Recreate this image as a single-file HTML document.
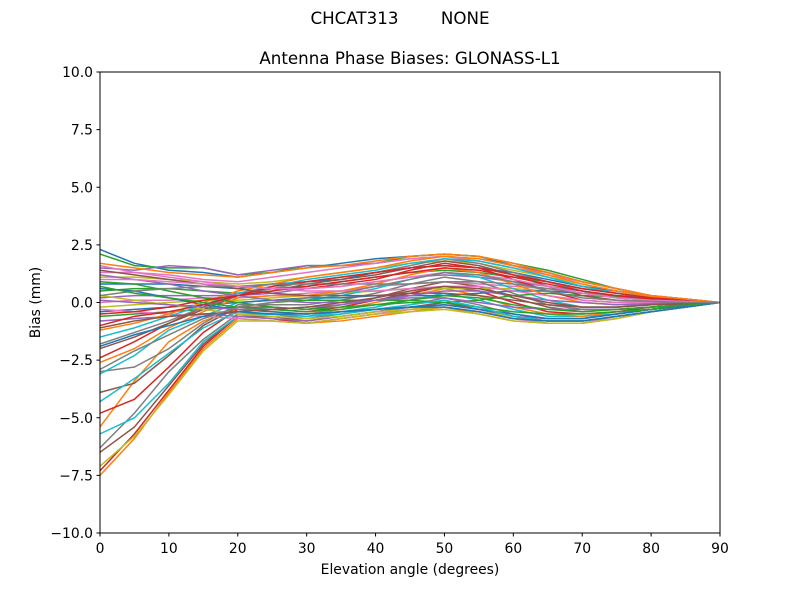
<!DOCTYPE html>
<html><head><meta charset="utf-8"><style>
body{margin:0;background:#fff;font-family:"Liberation Sans","DejaVu Sans",sans-serif}
svg text{font-family:"DejaVu Sans","Liberation Sans",sans-serif}
</style></head><body>
<svg id="chart" width="800" height="600" viewBox="0 0 800 600" xmlns="http://www.w3.org/2000/svg">
<rect width="800" height="600" fill="#fff"/>
<text x="400" y="24" font-size="16.7" text-anchor="middle" xml:space="preserve">CHCAT313        NONE</text>
<text x="410" y="64" font-size="16.7" text-anchor="middle">Antenna Phase Biases: GLONASS-L1</text>
<g id="lines"></g>
<rect x="100" y="72" width="620" height="461" fill="none" stroke="#000" stroke-width="1"/>
<g id="axes"></g>
<text x="410" y="574" font-size="13.9" text-anchor="middle">Elevation angle (degrees)</text>
<text transform="translate(40,302.5) rotate(-90)" font-size="13.9" text-anchor="middle">Bias (mm)</text>
</svg>
<script>
const elevations=[0,5,10,15,20,25,30,35,40,45,50,55,60,65,70,75,80,85,90];
const xTicks=[0,10,20,30,40,50,60,70,80,90];
const yTicks=[-10,-7.5,-5,-2.5,0,2.5,5,7.5,10];
const yTickLabels=["\u221210.0","\u22127.5","\u22125.0","\u22122.5","0.0","2.5","5.0","7.5","10.0"];
const s01=[2.3,1.7,1.4,1.3,1.1,1.3,1.5,1.7,1.9,2.0,2.1,2.0,1.6,1.3,0.9,0.6,0.3,0.15,0];
const s02=[-7.5,-5.9,-3.9,-2.0,-0.7,-0.8,-0.9,-0.8,-0.6,-0.4,-0.2,-0.5,-0.8,-0.9,-0.9,-0.7,-0.4,-0.2,0];
const s03=[2.1,1.6,1.5,1.5,1.2,1.3,1.6,1.6,1.7,2.0,2.1,2.0,1.7,1.4,1.0,0.6,0.3,0.15,0];
const s04=[-7.3,-5.7,-3.8,-1.9,-0.6,-0.7,-0.9,-0.7,-0.5,-0.3,-0.2,-0.4,-0.7,-0.8,-0.8,-0.6,-0.4,-0.2,0];
const s05=[1.5,1.4,1.6,1.5,1.2,1.4,1.6,1.6,1.7,1.9,2.0,1.9,1.6,1.3,0.9,0.6,0.3,0.15,0];
const s06=[-6.5,-5.4,-3.6,-1.8,-0.6,-0.6,-0.8,-0.6,-0.4,-0.2,0.0,-0.3,-0.6,-0.8,-0.8,-0.6,-0.4,-0.2,0];
const s07=[1.3,1.3,1.2,1.0,0.9,1.1,1.3,1.5,1.7,1.9,2.0,1.8,1.5,1.2,0.9,0.6,0.3,0.15,0];
const s08=[-6.3,-4.8,-3.0,-1.6,-0.5,-0.5,-0.7,-0.5,-0.3,-0.1,0.2,-0.1,-0.5,-0.7,-0.7,-0.5,-0.3,-0.15,0];
const s09=[1.1,1.1,1.0,0.9,0.8,0.9,1.1,1.3,1.5,1.7,1.8,1.7,1.4,1.1,0.8,0.5,0.3,0.1,0];
const s10=[-5.7,-5.0,-3.5,-1.7,-0.6,-0.5,-0.6,-0.4,-0.2,0.1,0.4,0.1,-0.3,-0.6,-0.6,-0.5,-0.3,-0.15,0];
const s11=[0.8,0.8,0.8,0.7,0.6,0.8,0.9,1.0,1.3,1.5,1.6,1.5,1.3,1.0,0.7,0.5,0.25,0.1,0];
const s12=[-5.4,-3.4,-1.7,-0.8,-0.3,-0.4,-0.5,-0.3,0.0,0.3,0.6,0.3,-0.2,-0.5,-0.6,-0.4,-0.3,-0.1,0];
const s13=[0.5,0.6,0.6,0.5,0.4,0.6,0.7,0.9,1.1,1.3,1.4,1.3,1.1,0.9,0.6,0.4,0.2,0.1,0];
const s14=[-4.8,-4.2,-2.8,-1.3,-0.3,-0.3,-0.4,-0.2,0.1,0.4,0.7,0.5,0.0,-0.4,-0.5,-0.4,-0.2,-0.1,0];
const s15=[0.2,0.3,0.3,0.3,0.3,0.4,0.6,0.7,0.9,1.1,1.2,1.1,0.9,0.7,0.5,0.3,0.2,0.1,0];
const s16=[-3.9,-3.5,-2.3,-1.0,-0.2,-0.2,-0.3,-0.1,0.2,0.6,0.9,0.7,0.2,-0.2,-0.4,-0.3,-0.2,-0.1,0];
const s17=[0.0,0.1,0.1,0.2,0.2,0.3,0.4,0.5,0.7,0.8,0.9,0.8,0.7,0.6,0.4,0.3,0.2,0.1,0];
const s18=[-3.0,-2.8,-2.0,-0.9,-0.1,-0.1,-0.1,0.1,0.4,0.8,1.1,0.9,0.4,-0.1,-0.3,-0.3,-0.2,-0.1,0];
const s19=[-0.2,-0.1,0.0,0.1,0.1,0.2,0.3,0.4,0.5,0.6,0.6,0.6,0.6,0.5,0.4,0.3,0.2,0.1,0];
const s20=[-3.1,-2.3,-1.2,-0.6,0.0,0.1,0.1,0.3,0.6,1.0,1.3,1.1,0.6,0.1,-0.2,-0.2,-0.1,-0.05,0];
const s21=[-0.4,-0.3,-0.2,-0.1,0.0,0.1,0.2,0.2,0.3,0.3,0.3,0.4,0.5,0.5,0.4,0.3,0.2,0.1,0];
const s22=[-2.6,-2.0,-1.1,-0.4,0.2,0.3,0.3,0.5,0.8,1.2,1.5,1.3,0.8,0.3,0.0,-0.1,-0.1,0,0];
const s23=[-0.6,-0.5,-0.4,-0.3,-0.2,0.0,0.1,0.1,0.1,0.1,0.0,0.1,0.3,0.4,0.3,0.25,0.15,0.1,0];
const s24=[-2.4,-1.7,-0.9,-0.2,0.4,0.6,0.6,0.8,1.0,1.4,1.7,1.5,1.0,0.5,0.1,0.0,0,0,0];
const s25=[-0.8,-0.7,-0.6,-0.5,-0.6,-0.7,-0.8,-0.6,-0.4,-0.2,-0.1,-0.3,-0.6,-0.7,-0.7,-0.5,-0.3,-0.15,0];
const s26=[-2.0,-1.5,-0.9,-0.3,0.3,0.5,0.8,1.0,1.2,1.5,1.8,1.6,1.2,0.7,0.3,0.1,0.05,0,0];
const s27=[-0.3,-0.4,-0.5,-0.6,-0.7,-0.8,-0.9,-0.7,-0.5,-0.3,-0.2,-0.4,-0.7,-0.9,-0.9,-0.6,-0.4,-0.2,0];
const s28=[-1.8,-1.3,-0.8,-0.2,0.3,0.6,0.9,1.1,1.3,1.6,1.9,1.7,1.3,0.9,0.5,0.2,0.1,0.05,0];
const s29=[0.3,0.1,-0.1,-0.3,-0.5,-0.6,-0.7,-0.6,-0.4,-0.3,-0.2,-0.4,-0.6,-0.8,-0.8,-0.6,-0.4,-0.2,0];
const s30=[-1.5,-1.1,-0.6,-0.1,0.4,0.7,1.0,1.2,1.4,1.7,1.9,1.8,1.5,1.1,0.7,0.4,0.2,0.1,0];
const s31=[0.6,0.5,0.2,-0.1,-0.3,-0.4,-0.5,-0.4,-0.3,-0.2,-0.1,-0.3,-0.5,-0.7,-0.7,-0.5,-0.3,-0.15,0];
const s32=[-1.2,-0.9,-0.5,0.0,0.5,0.8,1.1,1.3,1.5,1.8,2.0,1.9,1.6,1.2,0.8,0.5,0.25,0.1,0];
const s33=[0.9,0.8,0.5,0.2,0.0,-0.2,-0.3,-0.2,-0.1,0.0,0.0,-0.2,-0.4,-0.5,-0.5,-0.4,-0.3,-0.1,0];
const s34=[-1.0,-0.6,-0.4,-0.1,0.3,0.7,0.9,1.1,1.3,1.5,1.6,1.5,1.2,0.9,0.6,0.4,0.2,0.1,0];
const s35=[1.2,1.0,0.8,0.5,0.3,0.1,0.0,0.0,0.1,0.2,0.2,0.0,-0.2,-0.3,-0.3,-0.3,-0.2,-0.1,0];
const s36=[1.4,1.2,1.0,0.8,0.6,0.4,0.3,0.3,0.3,0.4,0.4,0.3,0.1,-0.1,-0.2,-0.2,-0.1,-0.05,0];
const s37=[1.0,1.0,0.9,0.8,0.7,0.6,0.5,0.5,0.5,0.6,0.7,0.7,0.5,0.3,0.1,0,0,0,0];
const s38=[0.3,0.5,0.6,0.7,0.7,0.8,0.8,0.8,0.8,0.8,0.9,0.9,0.8,0.6,0.4,0.2,0.1,0.05,0];
const s39=[-7.1,-5.8,-4.0,-2.1,-0.8,-0.8,-0.9,-0.7,-0.5,-0.4,-0.3,-0.5,-0.8,-0.9,-0.9,-0.7,-0.4,-0.2,0];
const s40=[-4.3,-3.3,-2.2,-1.1,-0.4,-0.5,-0.6,-0.5,-0.3,-0.1,0.1,-0.2,-0.6,-0.8,-0.8,-0.6,-0.4,-0.2,0];
const s41=[-1.9,-1.4,-1.0,-0.6,-0.4,-0.5,-0.5,-0.4,-0.3,-0.2,-0.2,-0.4,-0.7,-0.8,-0.8,-0.6,-0.4,-0.2,0];
const s42=[1.7,1.5,1.3,1.2,1.1,1.3,1.5,1.6,1.8,2.0,2.1,2.0,1.7,1.3,0.9,0.6,0.3,0.15,0];
const s43=[0.7,0.4,0.2,0.0,-0.2,-0.3,-0.4,-0.3,-0.1,0.1,0.3,0.2,-0.1,-0.3,-0.4,-0.3,-0.2,-0.1,0];
const s44=[-0.5,-0.4,-0.2,0.1,0.3,0.5,0.7,0.9,1.1,1.3,1.5,1.4,1.1,0.8,0.5,0.3,0.15,0.05,0];
const s45=[0.1,0.0,-0.1,-0.2,-0.3,-0.3,-0.2,-0.1,0.1,0.3,0.5,0.5,0.3,0.1,0.0,-0.1,-0.05,0,0];
const s46=[-1.1,-0.8,-0.6,-0.5,-0.4,-0.3,-0.2,0.0,0.2,0.5,0.7,0.6,0.3,0.0,-0.2,-0.2,-0.1,-0.05,0];
const s47=[1.6,1.3,1.1,0.9,0.7,0.6,0.6,0.7,0.9,1.1,1.3,1.2,1.0,0.7,0.4,0.2,0.1,0.05,0];
const s48=[-2.9,-2.1,-1.4,-0.7,-0.2,0.0,0.2,0.4,0.7,1.0,1.3,1.2,0.9,0.5,0.2,0.1,0.05,0,0];
const series=[s01,s02,s03,s04,s05,s06,s07,s08,s09,s10,s11,s12,s13,s14,s15,s16,s17,s18,s19,s20,s21,s22,s23,s24,s25,s26,s27,s28,s29,s30,s31,s32,s33,s34,s35,s36,s37,s38,s39,s40,s41,s42,s43,s44,s45,s46,s47,s48];
const colors=["#1f77b4","#ff7f0e","#2ca02c","#d62728","#9467bd","#8c564b","#e377c2","#7f7f7f","#bcbd22","#17becf"];
const NS="http://www.w3.org/2000/svg";
function xs(v){return 100+(v-0)/90*620;}
function ys(v){return 533-(v+10)/20*461;}
const lg=document.getElementById('lines');
series.forEach((s,i)=>{
  const p=document.createElementNS(NS,'polyline');
  p.setAttribute('points',s.map((v,j)=>xs(elevations[j]).toFixed(2)+','+ys(v).toFixed(2)).join(' '));
  p.setAttribute('fill','none');
  p.setAttribute('stroke',colors[i%10]);
  p.setAttribute('stroke-width','1.5');
  
  
  lg.appendChild(p);
});
const ax=document.getElementById('axes');
xTicks.forEach(t=>{
  const l=document.createElementNS(NS,'line');
  l.setAttribute('x1',xs(t));l.setAttribute('x2',xs(t));l.setAttribute('y1',533);l.setAttribute('y2',536.5);l.setAttribute('stroke','#000');
  
  
  ax.appendChild(l);
  const tx=document.createElementNS(NS,'text');
  tx.setAttribute('x',xs(t));tx.setAttribute('y',553);tx.setAttribute('font-size','13.9');tx.setAttribute('text-anchor','middle');
  tx.textContent=String(t);
  
  
  ax.appendChild(tx);
});
yTicks.forEach((t,i)=>{
  const l=document.createElementNS(NS,'line');
  l.setAttribute('x1',96.5);l.setAttribute('x2',100);l.setAttribute('y1',ys(t));l.setAttribute('y2',ys(t));l.setAttribute('stroke','#000');
  
  
  ax.appendChild(l);
  const tx=document.createElementNS(NS,'text');
  tx.setAttribute('x',93);tx.setAttribute('y',ys(t)+5);tx.setAttribute('font-size','13.9');tx.setAttribute('text-anchor','end');
  tx.textContent=yTickLabels[i];
  
  
  ax.appendChild(tx);
});
</script>
</body></html>
